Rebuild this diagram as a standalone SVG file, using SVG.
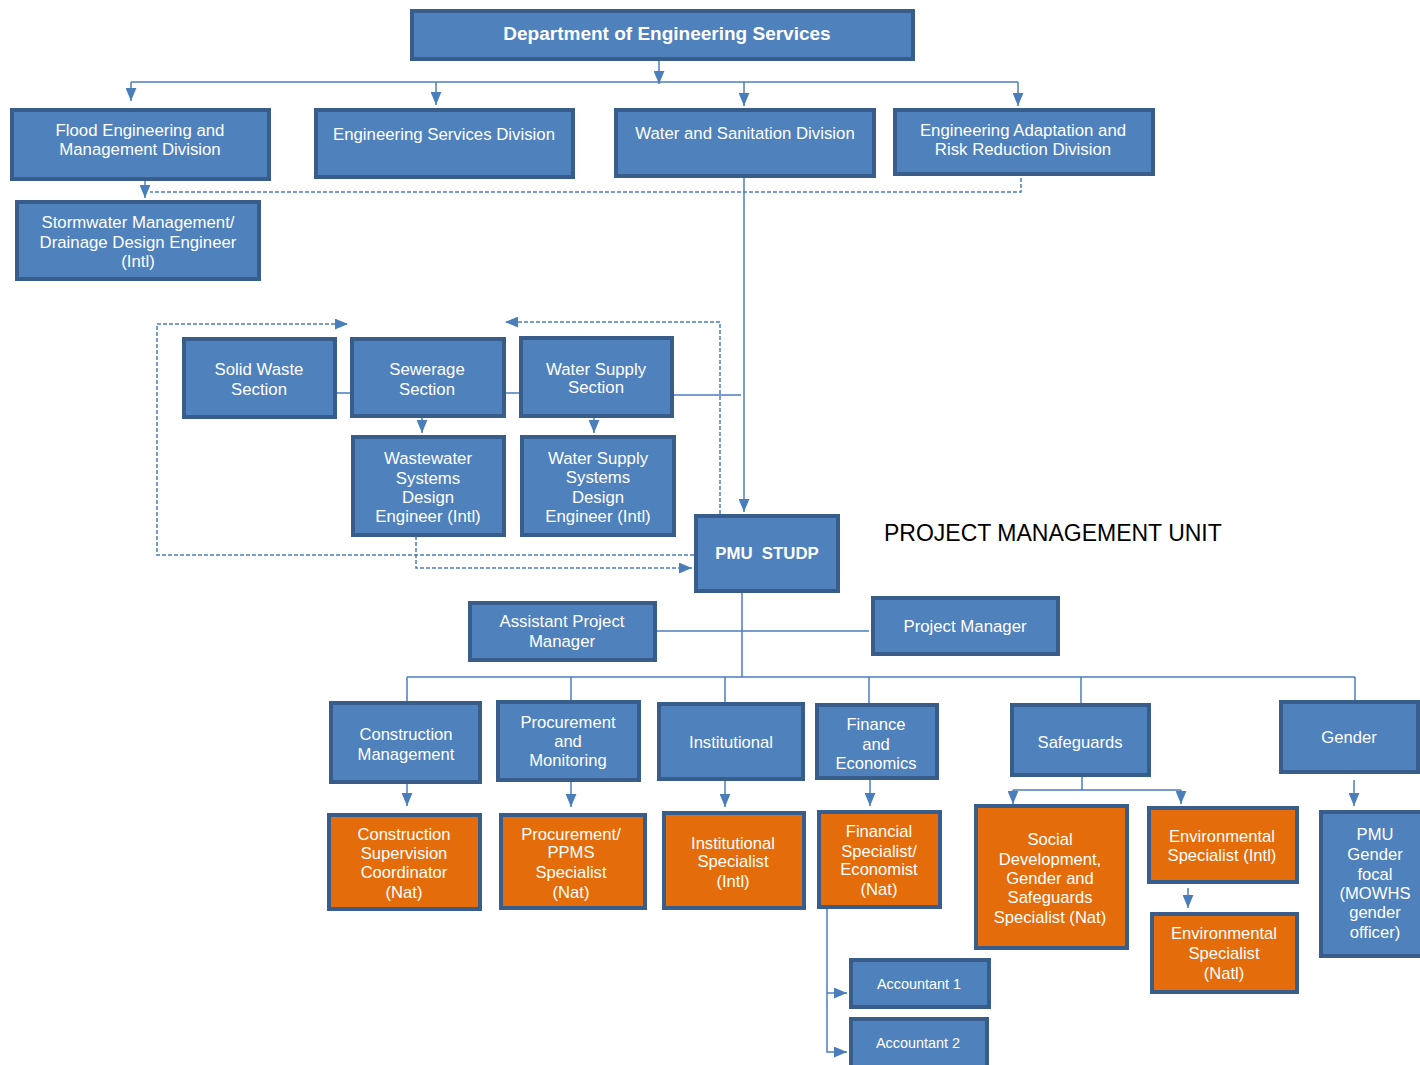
<svg xmlns="http://www.w3.org/2000/svg" width="1420" height="1065" viewBox="0 0 1420 1065">
<style>
.b{fill:#4F81BD;stroke:#385D8A;stroke-width:4}
.o{fill:#E46C0A;stroke:#385D8A;stroke-width:4}
.t{font-family:"Liberation Sans",Arial,sans-serif;fill:#fff;text-anchor:middle;font-size:16.8px}
.s{font-size:16.6px}
.big{font-size:19px;font-weight:bold}
.acc{font-size:14.4px}
.bold{font-weight:bold}
.c{stroke:#4A7EBB;stroke-width:1.5;fill:none}
.d{stroke:#4A7EBB;stroke-width:1.5;fill:none;stroke-dasharray:4 2}
.ar{marker-end:url(#a)}
</style>
<defs>
<marker id="a" viewBox="0 0 12 10" refX="12" refY="5" markerWidth="13" markerHeight="11" markerUnits="userSpaceOnUse" orient="auto"><path d="M0,0 L12,5 L0,10 z" fill="#4A7EBB"/></marker>
</defs>
<rect width="1420" height="1065" fill="#fff"/>
<g id="connectors">
<path class="c ar" d="M659,60 V84"/>
<path class="c" d="M131,82 H1018"/>
<path class="c ar" d="M131,82 V101"/>
<path class="c ar" d="M436,82 V105"/>
<path class="c ar" d="M744,82 V106"/>
<path class="c ar" d="M1018,82 V106"/>
<path class="c ar" d="M145,180 V198"/>
<path class="d" d="M1021,178 V192 H150"/>
<path class="c ar" d="M744,177 V512"/>
<path class="c" d="M336,393 H350 M505,393 H519 M673,395 H741"/>
<path class="c ar" d="M422,417 V433"/>
<path class="c ar" d="M594,417 V433"/>
<path class="d ar" d="M694,555 H157 V324 H348"/>
<path class="d ar" d="M720,514 V322 H505"/>
<path class="d ar" d="M416,536 V568 H692"/>
<path class="c" d="M742,592 V677"/>
<path class="c" d="M656,631 H869"/>
<path class="c" d="M407,677 H1355 M407,677 V701 M571,677 V700 M725,677 V702 M869,677 V703 M1081,677 V703 M1355,677 V700"/>
<path class="c ar" d="M407,783 V806"/>
<path class="c ar" d="M571,781 V807"/>
<path class="c ar" d="M725,780 V807"/>
<path class="c ar" d="M870,779 V806"/>
<path class="c" d="M1082,776 V790 M1013,790 H1181"/>
<path class="c ar" d="M1013,790 V804"/>
<path class="c ar" d="M1181,790 V804"/>
<path class="c ar" d="M1354,780 V806"/>
<path class="c ar" d="M1188,888 V908"/>
<path class="c ar" d="M827,908 V1052 H847"/>
<path class="c ar" d="M827,993 H847"/>
</g>
<g id="dept"><rect class="b" x="412" y="11" width="501" height="48"/><text class="t big" x="667" y="40">Department of Engineering Services</text></g>
<g id="flood"><rect class="b" x="12" y="110" width="257" height="69"/><text class="t" x="140" y="136">Flood Engineering and</text><text class="t" x="140" y="155">Management Division</text></g>
<g id="esd"><rect class="b" x="316" y="110" width="257" height="67"/><text class="t" x="444" y="140">Engineering Services Division</text></g>
<g id="wsd"><rect class="b" x="616" y="110" width="258" height="66"/><text class="t" x="745" y="139">Water and Sanitation Division</text></g>
<g id="earr"><rect class="b" x="895" y="110" width="258" height="64"/><text class="t" x="1023" y="136">Engineering Adaptation and</text><text class="t" x="1023" y="155">Risk Reduction Division</text></g>
<g id="storm"><rect class="b" x="17" y="202" width="242" height="77"/><text class="t" x="138" y="228">Stormwater Management/</text><text class="t" x="138" y="248">Drainage Design Engineer</text><text class="t" x="138" y="267">(Intl)</text></g>
<g id="solid"><rect class="b" x="184" y="339" width="151" height="78"/><text class="t" x="259" y="375">Solid Waste</text><text class="t" x="259" y="395">Section</text></g>
<g id="sewer"><rect class="b" x="352" y="339" width="152" height="77"/><text class="t" x="427" y="375">Sewerage</text><text class="t" x="427" y="395">Section</text></g>
<g id="wss"><rect class="b" x="521" y="338" width="151" height="78"/><text class="t" x="596" y="375">Water Supply</text><text class="t" x="596" y="393">Section</text></g>
<g id="wwsde"><rect class="b" x="353" y="437" width="151" height="98"/><text class="t" x="428" y="464">Wastewater</text><text class="t" x="428" y="484">Systems</text><text class="t" x="428" y="503">Design</text><text class="t" x="428" y="522">Engineer (Intl)</text></g>
<g id="wssde"><rect class="b" x="522" y="437" width="152" height="98"/><text class="t" x="598" y="464">Water Supply</text><text class="t" x="598" y="483">Systems</text><text class="t" x="598" y="503">Design</text><text class="t" x="598" y="522">Engineer (Intl)</text></g>
<g id="pmu"><rect class="b" x="696" y="516" width="142" height="75"/><text class="t bold" x="767" y="559" xml:space="preserve">PMU  STUDP</text></g>
<text x="884" y="541" font-family="Liberation Sans, Arial, sans-serif" font-size="23" fill="#000">PROJECT MANAGEMENT UNIT</text>
<g id="apm"><rect class="b" x="470" y="603" width="185" height="57"/><text class="t" x="562" y="627">Assistant Project</text><text class="t" x="562" y="647">Manager</text></g>
<g id="pm"><rect class="b" x="873" y="598" width="185" height="56"/><text class="t" x="965" y="632">Project Manager</text></g>
<g id="cm"><rect class="b" x="331" y="703" width="149" height="79"/><text class="t s" x="406" y="740">Construction</text><text class="t s" x="406" y="760">Management</text></g>
<g id="procm"><rect class="b" x="498" y="702" width="141" height="78"/><text class="t s" x="568" y="728">Procurement</text><text class="t s" x="568" y="747">and</text><text class="t s" x="568" y="766">Monitoring</text></g>
<g id="inst"><rect class="b" x="659" y="704" width="144" height="75"/><text class="t s" x="731" y="748">Institutional</text></g>
<g id="fin"><rect class="b" x="817" y="705" width="120" height="73"/><text class="t s" x="876" y="730">Finance</text><text class="t s" x="876" y="750">and</text><text class="t s" x="876" y="769">Economics</text></g>
<g id="safe"><rect class="b" x="1012" y="705" width="137" height="70"/><text class="t s" x="1080" y="748">Safeguards</text></g>
<g id="gender"><rect class="b" x="1281" y="702" width="137" height="70"/><text class="t s" x="1349" y="743">Gender</text></g>
<g id="csc"><rect class="o" x="329" y="815" width="151" height="94"/><text class="t s" x="404" y="840">Construction</text><text class="t s" x="404" y="859">Supervision</text><text class="t s" x="404" y="878">Coordinator</text><text class="t s" x="404" y="898">(Nat)</text></g>
<g id="ppms"><rect class="o" x="501" y="815" width="144" height="93"/><text class="t s" x="571" y="840">Procurement/</text><text class="t s" x="571" y="858">PPMS</text><text class="t s" x="571" y="878">Specialist</text><text class="t s" x="571" y="898">(Nat)</text></g>
<g id="instsp"><rect class="o" x="664" y="813" width="140" height="95"/><text class="t s" x="733" y="849">Institutional</text><text class="t s" x="733" y="867">Specialist</text><text class="t s" x="733" y="887">(Intl)</text></g>
<g id="finsp"><rect class="o" x="819" y="812" width="121" height="95"/><text class="t s" x="879" y="837">Financial</text><text class="t s" x="879" y="857">Specialist/</text><text class="t s" x="879" y="875">Economist</text><text class="t s" x="879" y="895">(Nat)</text></g>
<g id="social"><rect class="o" x="976" y="806" width="151" height="142"/><text class="t s" x="1050" y="845">Social</text><text class="t s" x="1050" y="865">Development,</text><text class="t s" x="1050" y="884">Gender and</text><text class="t s" x="1050" y="903">Safeguards</text><text class="t s" x="1050" y="923">Specialist (Nat)</text></g>
<g id="envi"><rect class="o" x="1149" y="808" width="148" height="74"/><text class="t s" x="1222" y="842">Environmental</text><text class="t s" x="1222" y="861">Specialist (Intl)</text></g>
<g id="envn"><rect class="o" x="1152" y="914" width="145" height="78"/><text class="t s" x="1224" y="939">Environmental</text><text class="t s" x="1224" y="959">Specialist</text><text class="t s" x="1224" y="979">(Natl)</text></g>
<g id="gfocal"><rect class="b" x="1321" y="812" width="101" height="144"/><text class="t s" x="1375" y="840">PMU</text><text class="t s" x="1375" y="860">Gender</text><text class="t s" x="1375" y="880">focal</text><text class="t s" x="1375" y="899">(MOWHS</text><text class="t s" x="1375" y="918">gender</text><text class="t s" x="1375" y="938">officer)</text></g>
<g id="acc1"><rect class="b" x="851" y="960" width="138" height="47"/><text class="t acc" x="919" y="989">Accountant 1</text></g>
<g id="acc2"><rect class="b" x="851" y="1019" width="136" height="48"/><text class="t acc" x="918" y="1048">Accountant 2</text></g>
</svg>
